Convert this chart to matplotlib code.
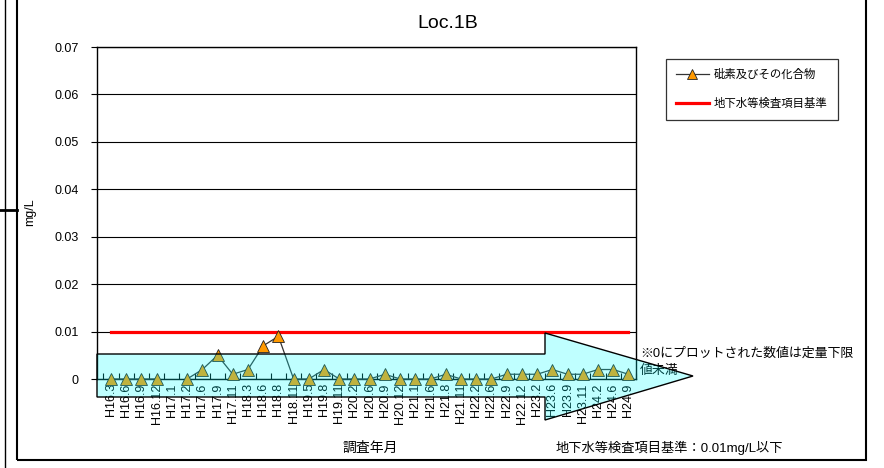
import numpy as np
import matplotlib.pyplot as plt
from matplotlib.patches import Polygon, Rectangle
from matplotlib.lines import Line2D

plt.rcParams['font.family'] = ['Liberation Sans', 'Noto Sans CJK JP']

# 調査年月
months = ["H16.3", "H16.6", "H16.9", "H16.12", "H17.1", "H17.2", "H17.6", "H17.9",
          "H17.11", "H18.3", "H18.6", "H18.8", "H18.11", "H19.5", "H19.8", "H19.11",
          "H20.2", "H20.6", "H20.9", "H20.12", "H21.1", "H21.6", "H21.8", "H21.11",
          "H22.2", "H22.6", "H22.9", "H22.12", "H23.2", "H23.6", "H23.9", "H23.11",
          "H24.2", "H24.6", "H24.9"]
# 砒素及びその化合物 (mg/L), H17.1 は欠測
arsenic = [0, 0, 0, 0, np.nan, 0, 0.002, 0.005,
           0.001, 0.002, 0.007, 0.009, 0, 0, 0.002, 0,
           0, 0, 0.001, 0, 0, 0, 0.001, 0,
           0, 0, 0.001, 0.001, 0.001, 0.002, 0.001, 0.001,
           0.002, 0.002, 0.001]
# 地下水等検査項目基準
standard = [0.01] * len(months)

W, H = 884, 468
fig = plt.figure(figsize=(W / 100, H / 100), dpi=100)

def fx(px):
    return px / W

def fy(py):
    return 1 - py / H

ax = fig.add_axes([fx(97), fy(379), fx(636) - fx(97), fy(47) - fy(379)])
x = np.arange(len(months))

ax.plot(x, standard, color="#ff0000", lw=2.3, zorder=2, label="地下水等検査項目基準")
ax.plot(x, arsenic, color="#333333", lw=0.9, marker="^", ms=9,
        mfc="#ff9900", mec="#222222", mew=0.6, zorder=3, clip_on=False,
        label="砒素及びその化合物")

ax.set_ylim(0, 0.07)
ax.set_xlim(-0.92, 34.46)
ax.set_yticks(np.arange(0, 0.071, 0.01))
ax.set_yticklabels(["0"] + ["%.2f" % v for v in np.arange(0.01, 0.071, 0.01)], fontsize=9)
ax.yaxis.grid(True, color="black", lw=0.8)
ax.set_axisbelow(True)
ax.tick_params(axis="y", length=4, width=0.8, pad=9)

ax.set_xticks(x)
ax.set_xticklabels(months, rotation=90, fontsize=9)
ax.tick_params(axis="x", length=0, pad=3)
ax.set_xticks(np.arange(-0.5, len(months), 1), minor=True)
ax.tick_params(axis="x", which="minor", direction="in", length=4, width=0.8)
for s in ax.spines.values():
    s.set_color("black")
    s.set_linewidth(1)

fig.text(fx(30), fy(212), "mg/L", rotation=90, ha="center", va="center", fontsize=9)
fig.text(fx(448), fy(23), "Loc.1B", ha="center", va="center", fontsize=14)
fig.text(fx(370), fy(448), "調査年月", ha="center", va="center", fontsize=10)
fig.text(fx(556), fy(448), "地下水等検査項目基準：0.01mg/L以下", ha="left", va="center", fontsize=9.5)
fig.text(fx(640), fy(354), "※0にプロットされた数値は定量下限", ha="left", va="center", fontsize=9.3, zorder=1)
fig.text(fx(640), fy(371), "値未満", ha="left", va="center", fontsize=9.3, zorder=1)

# legend
h1 = Line2D([], [], color="#333333", lw=0.9, marker="^", ms=7, mfc="#ff9900", mec="#222222", mew=0.6)
h2 = Line2D([], [], color="#ff0000", lw=2.3)
leg = fig.legend([h1, h2], ["砒素及びその化合物", "地下水等検査項目基準"],
                 loc="upper left", bbox_to_anchor=(fx(660), fy(53)),
                 fontsize=8.2, frameon=True, fancybox=False, edgecolor="black",
                 handlelength=2.9, labelspacing=1.6, borderpad=0.9, handletextpad=0.4)
leg.get_frame().set_linewidth(0.9)

# cyan arrow overlay
pts = [(97, 354), (545, 354), (545, 333), (693, 376), (545, 420), (545, 397), (97, 397)]
arrow = Polygon([(fx(a), fy(b)) for a, b in pts], closed=True, transform=fig.transFigure,
                facecolor=(0, 1, 1, 0.25), edgecolor="black", lw=1, zorder=10)
fig.add_artist(arrow)

# outer frame
fig.add_artist(Rectangle((fx(17), fy(460)), fx(866) - fx(17), fy(0) - fy(460) + 0.01,
                         transform=fig.transFigure, fill=False, edgecolor="black", lw=1.5))
fig.add_artist(Line2D([fx(5), fx(5)], [0, 1], color="black", lw=1))
fig.add_artist(Line2D([0, fx(17)], [fy(210), fy(210)], color="black", lw=2))

fig.savefig("out.png", dpi=100)
